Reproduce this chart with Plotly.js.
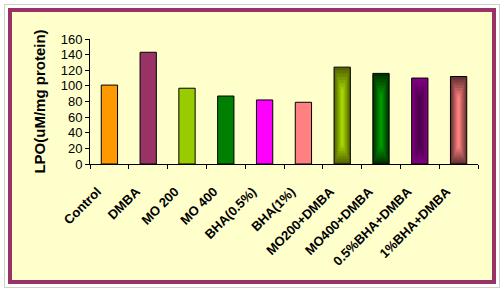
<!DOCTYPE html>
<html><head><meta charset="utf-8">
<script src="https://cdn.plot.ly/plotly-3.0.1.min.js"></script>
<style>
html,body{margin:0;padding:0;background:#ffffff;}
#outer{position:absolute;left:4px;top:4px;width:496px;height:284px;border:1px solid #d4d0c8;box-sizing:border-box;}
#frame{position:absolute;left:8px;top:8px;width:488px;height:276px;border:4px solid #993366;box-sizing:border-box;background:#FFFFCC;}
#chart{width:480px;height:268px;}
</style></head>
<body>
<div id="outer"></div>
<div id="frame"><div id="chart"></div></div>
<script>
const categories = ["Control","DMBA","MO 200","MO 400","BHA(0.5%)","BHA(1%)","MO200+DMBA","MO400+DMBA","0.5%BHA+DMBA","1%BHA+DMBA"];
const lpo = [101, 143, 97, 87, 82, 79, 124, 116, 110, 112];
const edgeColors = ["#FF9900","#993366","#99CC00","#008000","#FF00FF","#FF8080","#556600","#003300","#800080","#663333"];
const centerColors = [null,null,null,null,null,null,"#A6D600","#009900","#4A004A","#FF8080"];
const yTicks = [0,20,40,60,80,100,120,140,160];

const W = 0.42;
function hexToRgb(h){return [parseInt(h.substr(1,2),16),parseInt(h.substr(3,2),16),parseInt(h.substr(5,2),16)];}
function mix(a,b,t){const A=hexToRgb(a),B=hexToRgb(b);return 'rgb('+A.map((v,i)=>Math.round(v+(B[i]-v)*t)).join(',')+')';}

const traces = [{
  type:'bar', x:categories, y:lpo, width:W,
  marker:{color:edgeColors, line:{color:'#000000', width:1}},
  hoverinfo:'x+y'
}];
const layers = 7;
for(let k=1;k<=layers;k++){
  const t=k/layers;
  const xs=[],ys=[],bs=[],cs=[];
  categories.forEach((c,i)=>{
    if(!centerColors[i]) return;
    const frac=0.06*k;
    xs.push(c); bs.push(lpo[i]*frac*0.45); ys.push(lpo[i]*(1-frac)); cs.push(mix(edgeColors[i],centerColors[i],t));
  });
  traces.push({type:'bar', x:xs, y:ys, base:bs, width:W*(1-0.12*k)-0.01,
    marker:{color:cs, line:{width:0}}, hoverinfo:'skip', showlegend:false});
}

const layout = {
  width:480, height:268,
  margin:{l:78, r:14, t:27, b:116},
  paper_bgcolor:'#FFFFCC', plot_bgcolor:'#FFFFCC',
  barmode:'overlay', showlegend:false,
  font:{family:'"Liberation Sans", Arial, sans-serif', color:'#000000'},
  xaxis:{
    type:'category', showline:true, linecolor:'#000', linewidth:1,
    ticks:'outside', tickson:'boundaries', ticklen:4, tickcolor:'#000',
    tickangle:-45, tickfont:{size:13, family:'"Liberation Sans", Arial, sans-serif', weight:'bold'},
    ticklabelstandoff:14, ticklabelshift:-12,
    showgrid:false, zeroline:false, range:[-0.5, 9.5]
  },
  yaxis:{
    range:[0,160], tickvals:yTicks, ticktext:yTicks.map(String),
    showline:true, linecolor:'#000', linewidth:1, ticks:'outside', ticklen:4, tickcolor:'#000',
    tickfont:{size:13}, showgrid:false, zeroline:false,
    title:{text:'<b>LPO(uM/mg protein)</b>', font:{size:15}, standoff:11}
  }
};
Plotly.newPlot('chart', traces, layout, {displayModeBar:false, staticPlot:true});
</script>
</body></html>
